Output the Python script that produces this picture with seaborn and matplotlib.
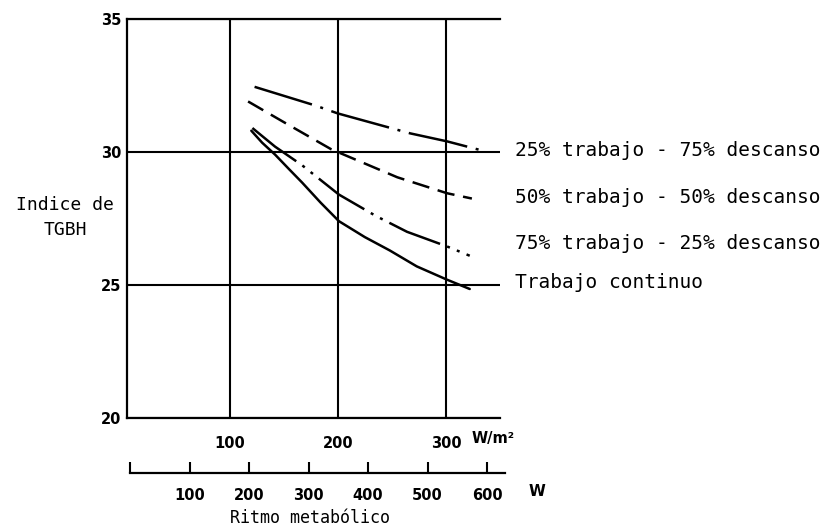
import numpy as np
import pandas as pd
import matplotlib
matplotlib.use("Agg")
import matplotlib.pyplot as plt
import seaborn as sns

# curves (x in W/m2, y = TGBH index)
x_25 = [123, 179, 200, 267, 301, 334]
y_25 = [32.45, 31.75, 31.45, 30.7, 30.4, 30.05]
x_50 = [117, 151, 194, 255, 301, 324]
y_50 = [31.9, 31.1, 30.1, 29.05, 28.45, 28.25]
x_75 = [121, 142, 167, 201, 235, 264, 301, 322]
y_75 = [30.9, 30.2, 29.5, 28.4, 27.6, 27.0, 26.45, 26.1]
x_cont = [120, 130, 142, 155, 167, 184, 201, 225, 248, 273, 301, 322]
y_cont = [30.8, 30.35, 29.9, 29.35, 28.85, 28.1, 27.4, 26.8, 26.3, 25.7, 25.2, 24.85]

labels = ["25% trabajo - 75% descanso", "50% trabajo - 50% descanso",
          "75% trabajo - 25% descanso", "Trabajo continuo"]
label_y = [30.05, 28.3, 26.55, 25.1]

y_ticks = [20, 25, 30, 35]
x_ticks = [100, 200, 300]
w_ticks = [0, 100, 200, 300, 400, 500, 600]

sns.set_style("white")
plt.rcParams['font.family'] = ['DejaVu Sans']
plt.rcParams['text.color'] = 'black'
plt.rcParams['xtick.color'] = 'black'
plt.rcParams['ytick.color'] = 'black'

fig = plt.figure(figsize=(8.29, 5.31), dpi=100)
W, H = 829, 531
ax = fig.add_axes([127 / W, 1 - 418 / H, (500 - 127) / W, (418 - 19) / H])

styles = [(0, (24, 3.5, 1.2, 3.5)),
          (0, (7, 3.5)),
          (0, (22, 3, 1.2, 3, 1.2, 3)),
          '-']
curves = [(x_25, y_25), (x_50, y_50), (x_75, y_75), (x_cont, y_cont)]
for (xs, ys), ls in zip(curves, styles):
    df = pd.DataFrame({'x': xs, 'y': ys})
    sns.lineplot(data=df, x='x', y='y', ax=ax, color='black', lw=1.8,
                 linestyle=ls)

ax.set_xlim(5, 350)
ax.set_ylim(20, 35)
ax.set_xticks(x_ticks)
ax.set_yticks(y_ticks)
ax.set_xticklabels([str(v) for v in x_ticks])
ax.tick_params(axis='both', length=0, labelsize=10.5, labelcolor='black')
ax.tick_params(axis='x', pad=13)
ax.tick_params(axis='y', pad=4)
for t in ax.get_xticklabels() + ax.get_yticklabels():
    t.set_fontweight('bold')
ax.set_xlabel('')
ax.set_ylabel('')
ax.grid(True, color='black', lw=1.5)
for s in ['left', 'top', 'bottom']:
    ax.spines[s].set_color('black')
    ax.spines[s].set_linewidth(1.6)
ax.spines['right'].set_visible(False)

mono = 'DejaVu Sans Mono'
for lab, yy in zip(labels, label_y):
    ax.text(364, yy, lab, family=mono, fontsize=14, va='center',
            ha='left', clip_on=False, color='black')

fig.text(65 / W, 1 - 205 / H, 'Indice de', family=mono, fontsize=13,
         ha='center', va='center', color='black')
fig.text(65 / W, 1 - 230 / H, 'TGBH', family=mono, fontsize=13,
         ha='center', va='center', color='black')
fig.text(472 / W, 1 - 438 / H, 'W/m²', fontsize=10.5, fontweight='bold',
         ha='left', va='center', color='black')

# second scale in W
ax2 = fig.add_axes([130 / W, 1 - 473 / H, (505 - 130) / W, 0.02])
ax2.set_xlim(0, 630)
ax2.set_ylim(0, 1)
ax2.set_xticks(w_ticks)
ax2.set_xticklabels([''] + [str(v) for v in w_ticks[1:]])
ax2.set_yticks([])
ax2.tick_params(axis='x', bottom=True, direction='in', length=8, width=1.5,
                labelsize=10.5, pad=11, color='black', labelcolor='black')
for t in ax2.get_xticklabels():
    t.set_fontweight('bold')
for s in ['left', 'right', 'top']:
    ax2.spines[s].set_visible(False)
ax2.spines['bottom'].set_linewidth(1.6)
ax2.spines['bottom'].set_color('black')
ax2.patch.set_alpha(0)

fig.text(537 / W, 1 - 492 / H, 'W', fontsize=11, fontweight='bold',
         ha='center', va='center', color='black')
fig.text(310 / W, 1 - 518 / H, 'Ritmo metabólico', family=mono,
         fontsize=12, ha='center', va='center', color='black')

fig.savefig('out.png', dpi=100)
